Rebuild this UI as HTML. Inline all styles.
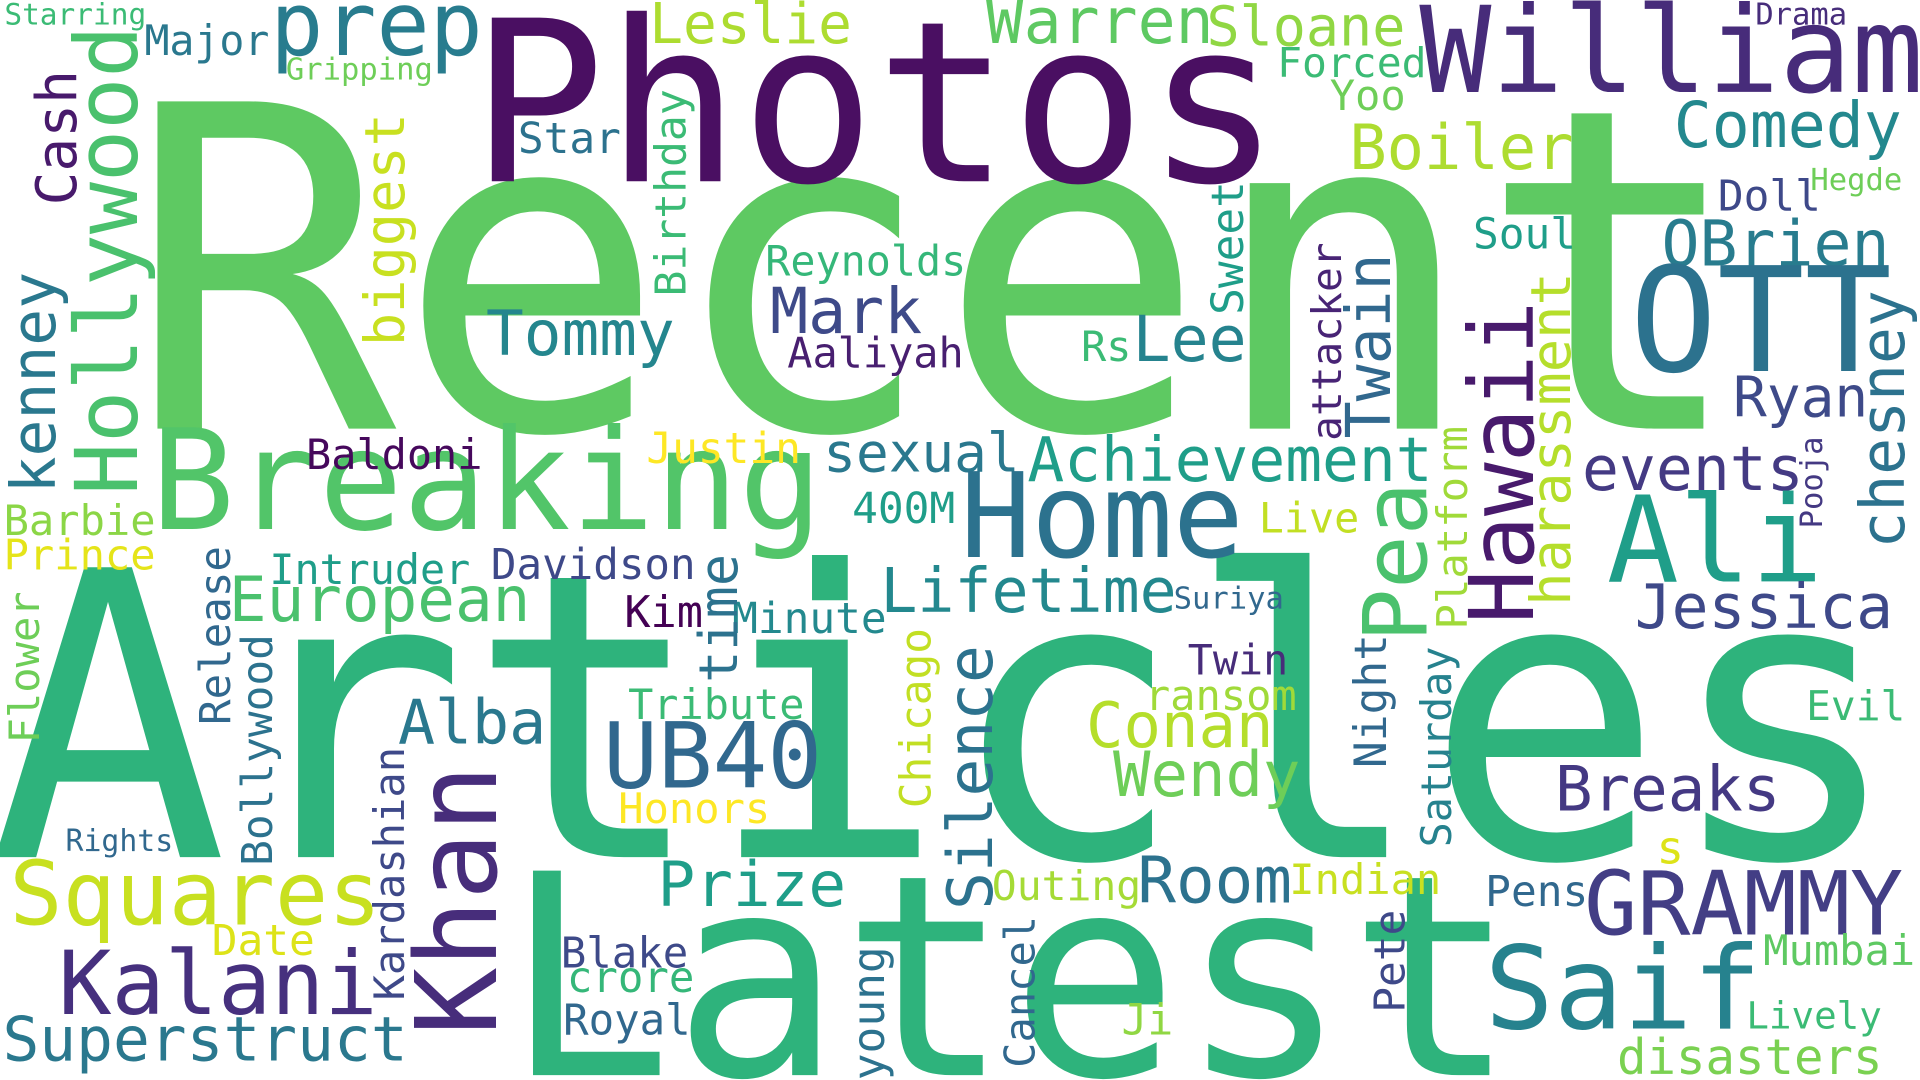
<!DOCTYPE html>
<html><head><meta charset="utf-8"><style>
html,body{margin:0;padding:0;background:#fff;width:1920px;height:1080px;overflow:hidden}
svg{display:block;overflow:hidden}
text{font-family:"DejaVu Sans Mono","Liberation Mono",monospace;}
</style></head><body>
<svg id="cloud" width="1920" height="1080" viewBox="0 0 1568 882" preserveAspectRatio="none" xmlns="http://www.w3.org/2000/svg">
<rect width="1568" height="882" fill="#fff"/>
</svg>
<script>
// horizontal words: text, left x, baseline y, extent width, color
const hWords = ["Recent","Articles","Latest","Photos","Breaking","William","prep","Leslie","Warren","Sloane","Forced","Yoo","Major","Starring","Gripping","Drama","Star","Boiler","Comedy","Doll","Hegde","Soul","OBrien","Reynolds","OTT","Mark","Tommy","Aaliyah","Lee","Rs","Ryan","Baldoni","Justin","sexual","Achievement","events","Home","Ali","Barbie","Prince","400M","Live","Intruder","Davidson","European","Lifetime","Suriya","Jessica","Kim","Minute","Twin","ransom","Tribute","Alba","Conan","Evil","UB40","Wendy","Breaks","Honors","Rights","Squares","Prize","Outing","Room","Indian","Pens","GRAMMY","s","Date","Kalani","Blake","Mumbai","crore","Saif","Lively","Royal","Ji","Superstruct","disasters"];
const hX = [125,10,425,395,130,1165,225,533,808,988,1045,1088,120,5,235,1435,425,1105,1370,1405,1480,1205,1360,627,1338,632,400,645,928,885,1418,252,530,675,842,1295,790,1318,5,5,698,1030,222,403,190,722,960,1338,512,600,972,937,515,328,890,1477,497,912,1273,507,55,12,540,812,932,1055,1215,1298,1355,175,52,460,1442,465,1218,1428,462,918,5,1323];
const hY = [350,700,878,148,432,75,45,35,35,37,63,90,45,20,65,20,125,138,120,172,155,203,217,225,303,272,290,300,295,295,340,383,378,385,393,400,455,475,437,465,427,435,477,473,507,500,497,513,512,517,551,580,587,607,610,588,643,650,662,672,695,755,740,735,737,730,740,763,705,780,828,790,788,810,840,840,845,845,866,877];
const hW = [1280,1525,800,640,535,400,165,160,180,157,118,58,98,113,117,72,80,177,180,80,72,80,180,160,200,118,148,140,87,37,105,140,122,155,325,175,220,165,120,120,80,78,160,163,240,236,87,205,60,122,78,120,140,115,147,77,170,147,178,120,85,295,148,118,120,120,80,252,18,80,252,100,120,100,215,107,100,38,325,212];
const hC = ["#5ec962","#2eb37c","#2eb37c","#4a0f62","#52c569","#472c7a","#287c8e","#addc30","#5ec962","#90d743","#3bbb75","#6ece58","#2a788e","#3bbb75","#6ece58","#472d7b","#2c728e","#addc30","#23888e","#3e4989","#6ece58","#1f9e89","#287c8e","#35b779","#2c728e","#3e4a89","#24868e","#481f70","#25838e","#3bbb75","#3e4a89","#46085c","#fde725","#2a788e","#1f9e89","#443a83","#2c728e","#1f9e89","#8bd646","#e5e419","#1f9e89","#c2df23","#1f9e89","#3e4989","#4ac16d","#23888e","#31688e","#3e4989","#440154","#23898e","#472c7a","#a0da39","#3bbb75","#2a788e","#b5de2b","#3bbb75","#31688e","#6ece58","#443983","#fde725","#31688e","#c8e020","#1f9e89","#a5db36","#2c728e","#c8e020","#31688e","#433e85","#dde318","#dde318","#46307e","#3e4a89","#5ec962","#35b779","#26828e","#3bbb75","#31688e","#90d743","#2a788e","#7ad151"];

// vertical words (reading bottom to top): text, baseline x, bottom y, extent length, color
const vWords = ["Hollywood","Cash","kenney","biggest","Birthday","Sweet","attacker","Twain","Hawaii","Pea","harassment","Platform","chesney","Pooja","time","Khan","Silence","Release","Flower","Bollywood","Chicago","Kardashian","Night","Saturday","young","Cancel","Pete"];
const vX = [112,62,45,330,560,1015,1095,1135,1252,1165,1282,1198,1555,1488,602,405,810,188,32,222,760,330,1132,1185,722,845,1147];
const vY = [400,165,400,280,240,255,358,355,505,520,492,512,445,430,555,840,740,590,605,705,658,815,625,690,880,870,825];
const vL = [375,105,175,185,165,105,158,145,255,122,267,162,205,72,100,210,210,142,120,185,143,203,105,160,105,120,80];
const vC = ["#4ac16d","#481a6c","#2a788e","#c8e020","#3bbb75","#1f9e89","#482475","#31688e","#481a6c","#4ac16d","#b5de2b","#a0da39","#2c728e","#443983","#2c728e","#472d7b","#2c728e","#31688e","#6ece58","#2c728e","#c2df23","#3e4989","#31688e","#26828e","#2c728e","#31688e","#3e4989"];

const svg = document.getElementById('cloud');
const NS = 'http://www.w3.org/2000/svg';
function sizeFor(word, extent){ return extent / (0.602 * word.length - 0.12); }
function slug(w){ return 'word-' + w.toLowerCase().replace(/[^a-z0-9]+/g,'-'); }

for (let i = 0; i < hWords.length; i++) {
  const fs = sizeFor(hWords[i], hW[i]);
  const t = document.createElementNS(NS, 'text');
  t.setAttribute('x', hX[i] - 0.06 * fs);
  t.setAttribute('y', hY[i]);
  t.setAttribute('font-size', fs);
  t.setAttribute('fill', hC[i]);
  t.textContent = hWords[i];
  
  
  svg.appendChild(t);
}
for (let i = 0; i < vWords.length; i++) {
  const fs = sizeFor(vWords[i], vL[i]);
  const t = document.createElementNS(NS, 'text');
  const bx = vX[i], by = vY[i] + 0.06 * fs;
  t.setAttribute('x', 0);
  t.setAttribute('y', 0);
  t.setAttribute('transform', 'translate(' + bx + ',' + by + ') rotate(-90)');
  t.setAttribute('font-size', fs);
  t.setAttribute('fill', vC[i]);
  t.textContent = vWords[i];
  
  
  svg.appendChild(t);
}
</script>
</body></html>
